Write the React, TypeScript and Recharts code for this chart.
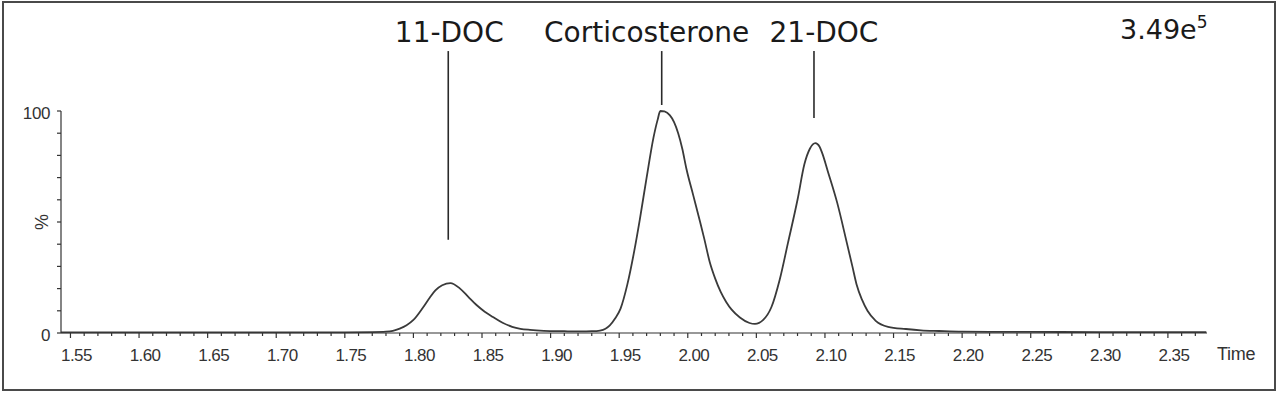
import React from "react";
import { LineChart, Line, XAxis, YAxis, ReferenceLine } from "recharts";

// chromatogram trace, time (min) vs relative intensity (%)
const times = [
  1.543, 1.6, 1.65, 1.7, 1.75, 1.77, 1.78, 1.785, 1.79, 1.795, 1.8, 1.807,
  1.812, 1.816, 1.821, 1.827, 1.834, 1.84, 1.846, 1.852, 1.858, 1.865, 1.872,
  1.878, 1.885, 1.895, 1.91, 1.922, 1.93, 1.936, 1.94, 1.943, 1.947, 1.951,
  1.956, 1.961, 1.965, 1.97, 1.975, 1.978, 1.98, 1.983, 1.987, 1.99, 1.993,
  1.996, 1.999, 2.004, 2.009, 2.012, 2.016, 2.02, 2.024, 2.028, 2.032, 2.038,
  2.045, 2.049, 2.055, 2.061, 2.067, 2.073, 2.08, 2.085, 2.089, 2.093, 2.096,
  2.098, 2.102, 2.109, 2.116, 2.12, 2.123, 2.127, 2.131, 2.137, 2.146, 2.159,
  2.17, 2.183, 2.2, 2.25, 2.3, 2.35, 2.378,
];
const intensity = [
  0.3, 0.3, 0.3, 0.3, 0.3, 0.4, 0.6, 1.0, 2.0, 3.5, 5.9, 11.5, 16, 19.2, 21.5,
  22.5, 20.0, 16.3, 12.6, 9.6, 7.2, 4.6, 2.8, 1.9, 1.4, 1.0, 0.8, 0.7, 0.8,
  1.1, 1.9, 3.3, 6.5, 11, 22, 37, 51, 70, 88, 96, 100, 99.8, 98, 95, 90, 83,
  74, 62, 50, 42.5, 32, 24.5, 18.5, 14, 10.5, 7, 4.5, 4.1, 5.9, 11.7, 24,
  40.5, 60, 76, 83, 85.5, 84, 81, 73, 58.5, 40.5, 30, 22, 15, 10, 5.5, 2.8,
  1.8, 1.2, 0.9, 0.6, 0.5, 0.4, 0.4, 0.4,
];

// peak annotations
const peakNames = ["11-DOC", "Corticosterone", "21-DOC"];
const peakTimes = [1.8254, 1.981, 2.092];
const peakMarkFrom = [42, 102.7, 96.8];
const peakMarkTo = 127;

const xTickLabels = [
  "1.55", "1.60", "1.65", "1.70", "1.75", "1.80", "1.85", "1.90", "1.95",
  "2.00", "2.05", "2.10", "2.15", "2.20", "2.25", "2.30", "2.35",
];
const yTickLabels = ["0", "100"];

const data = times.map((t, i) => ({ t, v: intensity[i] }));

const xTicks: number[] = [];
for (let i = 155; i <= 237; i++) xTicks.push(i / 100);
const yTicks = [0, 10, 20, 30, 40, 50, 60, 70, 80, 90, 100];

const labelShift = [1, -15, 10];
const ink = "#2a2a2a";
const axisFont = "'Liberation Sans', Arial, sans-serif";
const textFont = "'DejaVu Sans', Verdana, sans-serif";

function XTick({ x, y, payload }: any) {
  const s = payload.value.toFixed(2);
  const major = xTickLabels.includes(s);
  return (
    <g>
      <line x1={x} y1={y} x2={x} y2={y + (major ? 5 : 3)} stroke="#333" strokeWidth={1.2} />
      {major && (
        <text
          x={x + 6}
          y={y + 28}
          textAnchor="middle"
          fontSize={17}
          letterSpacing={-0.6}
          fontFamily={axisFont}
          fill="#333"
        >
          {s}
        </text>
      )}
    </g>
  );
}

function YTick({ x, y, payload }: any) {
  const s = String(payload.value);
  if (!yTickLabels.includes(s)) return <g />;
  return (
    <text x={x} y={y + 8} textAnchor="end" fontSize={17} letterSpacing={-0.4} fontFamily={axisFont} fill="#333">
      {s}
    </text>
  );
}

function PeakLabel({ viewBox, value, shift }: any) {
  const cx = viewBox.x + (viewBox.width || 0) / 2 + shift;
  return (
    <text x={cx} y={viewBox.y - 9} textAnchor="middle" fontSize={28} fontFamily={textFont} fill="#1a1a1a">
      {value}
    </text>
  );
}

export default function App() {
  return (
    <div style={{ position: "relative", width: 1280, height: 395, background: "#fff" }}>
      <style>{`body{margin:0}`}</style>
      <div
        style={{
          position: "absolute",
          left: 2,
          top: 1,
          width: 1270,
          height: 386,
          border: "2px solid #4a4a4a",
        }}
      />
      <div style={{ position: "absolute", left: 0, top: 0 }}>
        <LineChart width={1280} height={395} data={data} margin={{ top: 111, right: 73, bottom: 0, left: 0 }}>
          <XAxis
            dataKey="t"
            type="number"
            domain={[1.5431, 2.3785]}
            allowDataOverflow
            ticks={xTicks}
            interval={0}
            tickSize={0}
            tickMargin={0}
            tickLine={false}
            tick={<XTick />}
            axisLine={{ stroke: "#333", strokeWidth: 1.2 }}
            height={62}
          />
          <YAxis
            type="number"
            domain={[0, 100]}
            ticks={yTicks}
            interval={0}
            tickSize={4}
            tickMargin={7}
            tickLine={{ stroke: "#333", strokeWidth: 1.2 }}
            tick={<YTick />}
            axisLine={{ stroke: "#333", strokeWidth: 1.2 }}
            width={61}
          />
          {peakNames.map((name, i) => (
            <ReferenceLine
              key={name}
              segment={[
                { x: peakTimes[i], y: peakMarkFrom[i] },
                { x: peakTimes[i], y: peakMarkTo },
              ]}
              ifOverflow="visible"
              stroke={ink}
              strokeWidth={1.6}
              label={<PeakLabel value={name} shift={labelShift[i]} />}
            />
          ))}
          <Line
            type="monotone"
            dataKey="v"
            stroke="#3a3a3a"
            strokeWidth={1.8}
            dot={false}
            isAnimationActive={false}
          />
        </LineChart>
      </div>
      <svg
        width={1280}
        height={395}
        style={{ position: "absolute", left: 0, top: 0, pointerEvents: "none" }}
      >
        <text x={1217} y={360} fontSize={18} letterSpacing={-0.3} fontFamily={axisFont} fill="#333">
          Time
        </text>
        <text
          x={0}
          y={0}
          transform="translate(48,222) rotate(-90)"
          textAnchor="middle"
          fontSize={18}
          fontFamily={axisFont}
          fill="#333"
        >
          %
        </text>
        <text x={1120} y={39} fontSize={27} fontFamily={textFont} fill="#1a1a1a">
          3.49e
          <tspan fontSize={17} dy={-11}>
            5
          </tspan>
        </text>
      </svg>
    </div>
  );
}
